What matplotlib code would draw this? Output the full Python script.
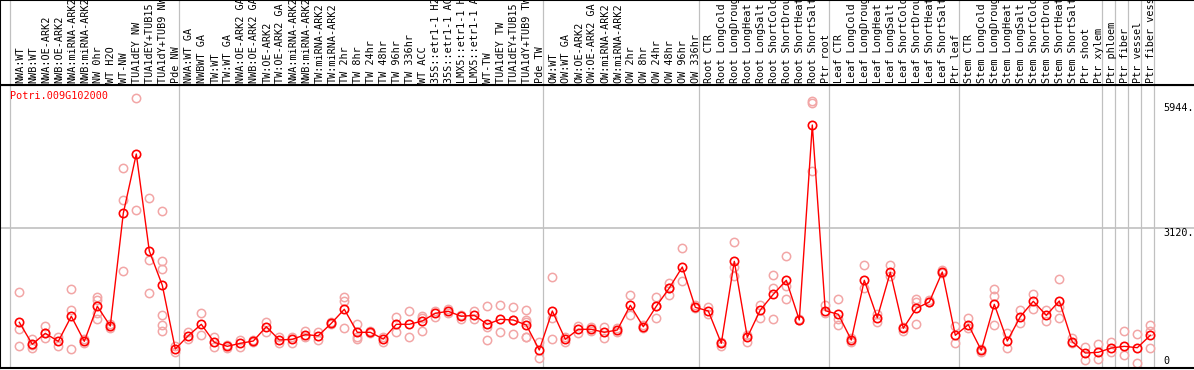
import matplotlib
matplotlib.use("Agg")
import matplotlib.pyplot as plt

# sample names, in plotting order
samples = [
    "NWA:WT", "NWB:WT", "NWA:OE-ARK2", "NWB:OE-ARK2", "NWA:miRNA-ARK2", "NWB:miRNA-ARK2",
    "NW 0hr", "WT H2O", "WT-NW", "TUA1dEY NW", "TUA1dEY+TUB15 NW", "TUA1dY+TUB9 NW", "Pde NW",
    "NWA:WT GA", "NWBWT GA", "TW:WT", "TW:WT GA", "NWA:OE-ARK2 GA", "NWB:OE-ARK2 GA",
    "TW:OE-ARK2", "TW:OE-ARK2 GA", "NWA:miRNA-ARK2", "NWB:miRNA-ARK2", "TW:miRNA-ARK2",
    "TW:miRNA-ARK2", "TW 2hr", "TW 8hr", "TW 24hr", "TW 48hr", "TW 96hr", "TW 336hr",
    "WT ACC", "35S::etr1-1 H2O", "35S::etr1-1 ACC", "LMX5::etr1-1 H2O", "LMX5::etr1-1 ACC",
    "WT-TW", "TUA1dEY TW", "TUA1dEY+TUB15 TW", "TUA1dY+TUB9 TW", "Pde TW",
    "OW:WT", "OW:WT GA", "OW:OE-ARK2", "OW:OE-ARK2 GA", "OW:miRNA-ARK2", "OW:miRNA-ARK2",
    "OW 2hr", "OW 8hr", "OW 24hr", "OW 48hr", "OW 96hr", "OW 336hr",
    "Root CTR", "Root LongCold", "Root LongDrought", "Root LongHeat", "Root LongSalt",
    "Root ShortCold", "Root ShortDrought", "Root ShortHeat", "Root ShortSalt", "Ptr root",
    "Leaf CTR", "Leaf LongCold", "Leaf LongDrought", "Leaf LongHeat", "Leaf LongSalt",
    "Leaf ShortCold", "Leaf ShortDrought", "Leaf ShortHeat", "Leaf ShortSalt", "Ptr leaf",
    "Stem CTR", "Stem LongCold", "Stem LongDrought", "Stem LongHeat", "Stem LongSalt",
    "Stem ShortCold", "Stem ShortDrought", "Stem ShortHeat", "Stem ShortSalt",
    "Ptr shoot", "Ptr xylem", "Ptr phloem", "Ptr fiber", "Ptr vessel", "Ptr fiber vessel",
]

# first sample index of each experiment block (last entry = end)
group_starts = [0, 13, 41, 53, 63, 73, 84, 85, 86, 87, 88]

means = [
    988, 491, 739, 558, 1124, 558, 1350, 904, 3453, 4793, 2600, 1825, 384,
    685, 943, 536, 445, 513, 565, 889, 588, 604, 708, 685, 965, 1282, 762, 762,
    610, 943, 943, 1017, 1192, 1237, 1124, 1146, 943, 1056, 1040, 927, 362,
    1244, 604, 830, 830, 762, 814, 1372, 889, 1350, 1764, 2238, 1327,
    1244, 513, 2367, 649, 1266, 1621, 1938, 1040, 5449, 1250,
    1169, 588, 1938, 1092, 2119, 852, 1305, 1447, 2125, 694,
    934, 355, 1395, 565, 1115, 1463, 1146, 1470, 549, 294, 310,
    407, 445, 414, 694,
]

reps = [
    [1666, 837, 445], [604, 400, 470], [898, 626, 746], [662, 452], [1734, 1259, 384],
    [604, 520], [1567, 1492, 1192, 1069], [943, 866], [4470, 3753, 2141], [6050, 3520],
    [3792, 2390, 1651], [3505, 2367, 2186, 1153, 927, 785], [452, 323],
    [762, 604], [1198, 694], [662, 436], [475, 400], [588, 423], [588, 543],
    [1002, 776], [656, 520], [662, 513], [798, 649], [776, 588], [988, 943],
    [1567, 1476, 852], [943, 662, 604], [785, 739], [649, 536], [1101, 776],
    [1237, 649], [1131, 1085, 785], [1244, 1115], [1289, 1192], [1146, 1056],
    [1237, 1056], [1357, 889, 588], [1379, 769], [1334, 1040, 717],
    [1266, 1040, 1002, 662, 649], [536, 174],
    [2006, 1092, 610], [662, 543], [911, 739], [875, 798], [889, 640], [852, 762],
    [1605, 1146], [927, 852], [1553, 1350, 1092], [1883, 1764, 1598], [2661, 1929],
    [1379, 1305],
    [1327, 1169], [549, 452], [2797, 2232, 2042], [701, 549], [1379, 1078],
    [2051, 1757, 1063], [2480, 1816, 1508], [1069, 1040], [5990, 5950, 4400],
    [1379, 1192],
    [1522, 1056, 920], [626, 536], [2277, 1770], [1169, 1002], [2284, 2042],
    [889, 798], [1508, 1447, 943], [1492, 1447], [2171, 2096], [904, 513],
    [1078, 859], [384, 323], [1734, 1583, 920], [739, 400], [1266, 979],
    [1628, 1289], [1266, 1025], [1960, 1327, 1092], [626, 513], [436, 129],
    [491, 151], [549, 310], [785, 255], [717, 61], [920, 785, 400],
]

gene = "Potri.009G102000"
y_marks = [5944, 3120]

W, H = 1194, 370
fig = plt.figure(figsize=(W / 100, H / 100), dpi=100)

mono = "DejaVu Sans Mono"
fs = 7.3
grey = "#c0c0c0"

# pixel layout
top_line = 85
bottom_line = 368
x_first = 19.3   # pixel x of first sample
step = 13.0      # pixels per sample
xlim = (-x_first / step, (W - x_first) / step)
ylim = (-45, 6353)

ax = fig.add_axes([0, (H - bottom_line) / H, 1, (bottom_line - top_line) / H])
lab = fig.add_axes([0, (H - top_line) / H, 1, top_line / H])

xs = list(range(len(samples)))
bounds = [g - 9.3 / step for g in group_starts]

for a in (ax, lab):
    a.set_xlim(*xlim)
    a.set_xticks([])
    a.set_yticks([])
    for b in bounds:
        a.axvline(b, color=grey, lw=0.9, zorder=0)
    for s in ("top", "bottom", "left"):
        a.spines[s].set_color("black")
        a.spines[s].set_linewidth(1.5)
    a.spines["right"].set_visible(False)

ax.set_ylim(*ylim)
ax.axhline(y_marks[1], color=grey, lw=1.2, zorder=0)

# replicate values
for x, r in zip(xs, reps):
    ax.plot([x] * len(r), r, ls="none", marker="o", ms=6.0, mfc="none",
            mec="#f2a6a6", mew=1.1, zorder=2)

# mean line
ax.plot(xs, means, color="red", lw=1, marker="o", ms=6.0, mfc="none",
        mec="red", mew=1.2, zorder=3)

ax.text(10 / W, 1 - 6 / (bottom_line - top_line), gene, transform=ax.transAxes,
        color="red", fontsize=fs, family=mono, va="top", ha="left")

yt = ax.get_yaxis_transform()
for v in y_marks:
    ax.text(1163 / W, v, f"{v}.", transform=yt, fontsize=fs, family=mono,
            va="top", ha="left", clip_on=False)
ax.text(1163 / W, 0, "0", transform=yt, fontsize=fs, family=mono,
        va="bottom", ha="left")

lab.set_ylim(0, 1)
for x, s in zip(xs, samples):
    lab.text(x + 0.08, 2 / top_line, s, rotation=90, ha="center", va="bottom",
             fontsize=fs, family=mono, clip_on=True)

fig.savefig("out.png", dpi=100)
